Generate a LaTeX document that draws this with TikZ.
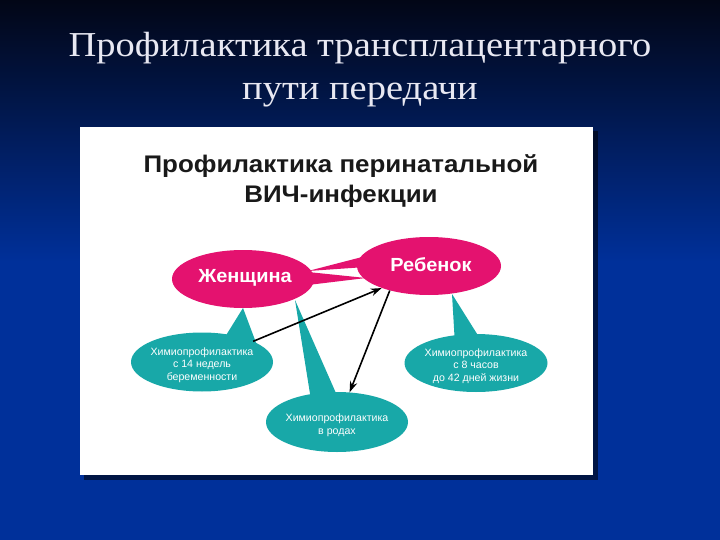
\documentclass[tikz,border=0pt]{standalone}
\usepackage{fontspec}
\setmainfont{Liberation Serif}
\newfontfamily\arialfont{Liberation Sans}
\usetikzlibrary{arrows.meta,shapes.geometric}
\definecolor{bgtop}{RGB}{2,6,22}
\definecolor{bgbot}{RGB}{0,48,154}
\definecolor{magentab}{RGB}{228,18,111}
\definecolor{tealb}{RGB}{24,168,168}
\definecolor{titlec}{RGB}{232,232,242}
\tikzset{
  pinkell/.style={ellipse, fill=magentab, inner sep=0pt},
  tealell/.style={ellipse, fill=tealb, inner sep=0pt},
  pinktext/.style={text=white, font=\arialfont\bfseries\fontsize{19}{22}\selectfont, inner sep=0pt},
  tealtext/.style={text=white, font=\arialfont\fontsize{10.6}{12.6}\selectfont, align=center, inner sep=0pt},
  titletext/.style={text=titlec, font=\fontsize{35}{43}\selectfont, anchor=base, inner sep=0pt},
  intitletext/.style={text=black!90, font=\arialfont\bfseries\fontsize{24}{30}\selectfont, anchor=base, inner sep=0pt},
  arr/.style={-{Stealth[length=11pt,width=7.5pt]}, line width=1.6pt, black},
}
\begin{document}
\begin{tikzpicture}[x=1pt,y=-1pt]
\useasboundingbox (0,0) rectangle (720,540);
% background
\shade[top color=bgtop, bottom color=bgbot] (0,0) rectangle (720,262);
\fill[bgbot] (0,261) rectangle (720,540);
% title
\node[titletext] (title1) at (360,57) {\scalebox{1.10}[1]{Профилактика трансплацентарного}};
\node[titletext] (title2) at (360,100) {\scalebox{1.10}[1]{пути передачи}};
% panel with shadow
\fill[black, opacity=0.55] (84,131) rectangle (598,480);
\fill[white] (80,127) rectangle (593,475);
% inner title
\node[intitletext] (intitle1) at (341,173) {\scalebox{1.08}[1]{Профилактика перинатальной}};
\node[intitletext] (intitle2) at (341,203) {\scalebox{1.08}[1]{ВИЧ-инфекции}};
% connection wedges between the two pink ellipses
\fill[magentab] (308,271) -- (366,256) -- (366,267) -- cycle;
\fill[magentab] (308,272) -- (308,285) -- (366,278) -- cycle;
% tails
\fill[tealb] (243,308) -- (220,345) -- (258,348) -- cycle;
\fill[tealb] (295,300) -- (311,400) -- (339,400) -- cycle;
\fill[tealb] (452,294) -- (455,345) -- (484,345) -- cycle;
% teal ellipses
\node[tealell, minimum width=142pt, minimum height=59pt] (L) at (202,362) {};
\node[tealell, minimum width=142pt, minimum height=60pt] (M) at (337,422) {};
\node[tealell, minimum width=143pt, minimum height=58pt] (Rt) at (476,363) {};
\node[tealtext] (Ltx) at (202,365) {Химиопрофилактика\\с 14 недель\\беременности};
\node[tealtext] (Mtx) at (337,425) {Химиопрофилактика\\в родах};
\node[tealtext] (Rtx) at (476,366) {Химиопрофилактика\\с 8 часов\\до 42 дней жизни};
% pink ellipses
\node[pinkell, minimum width=142pt, minimum height=58pt] (W) at (243,279) {};
\node[pinkell, minimum width=144pt, minimum height=58pt] (R) at (429,266) {};
\node[pinktext] (Wtx) at (245,278) {\scalebox{1.05}[1]{Женщина}};
\node[pinktext] (Rtx2) at (431,265) {\scalebox{1.05}[1]{Ребенок}};
% arrows
\draw[arr] (L.22) -- (R.205);
\draw[arr] (R.212) -- (M.67);
\end{tikzpicture}
\end{document}
